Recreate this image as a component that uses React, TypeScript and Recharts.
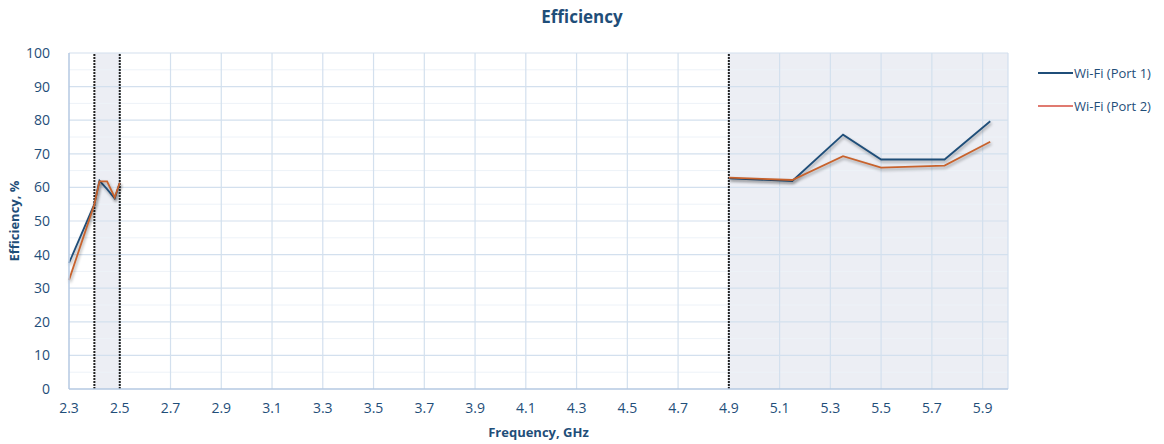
import {
  Line,
  LineChart,
  ReferenceArea,
  ReferenceLine,
  XAxis,
  YAxis,
} from "recharts";

// frequency points (GHz); the 3.7 entry is a null that splits the two bands
const freqs = [2.3, 2.4, 2.42, 2.45, 2.48, 2.5, 3.7, 4.9, 5.15, 5.35, 5.5, 5.75, 5.93];
const port1 = [37.5, 55, 62, 59.5, 56.7, 61.4, null, 62.7, 61.9, 75.7, 68.3, 68.3, 79.7];
const port2 = [32.4, 55, 61.8, 61.8, 57, 61.4, null, 62.9, 62.2, 69.3, 65.9, 66.5, 73.6];

const xTicks = [2.3, 2.5, 2.7, 2.9, 3.1, 3.3, 3.5, 3.7, 3.9, 4.1, 4.3, 4.5, 4.7, 4.9, 5.1, 5.3, 5.5, 5.7, 5.9];
const yTicks = [0, 10, 20, 30, 40, 50, 60, 70, 80, 90, 100];
const yMinor = [5, 15, 25, 35, 45, 55, 65, 75, 85, 95];

const bands = [
  { from: 2.4, to: 2.5 },
  { from: 4.9, to: 6.0 },
];
const markers = [2.4, 2.5, 4.9];

const series = [
  { key: "port1", name: "Wi-Fi (Port 1)", color: "#1f4e79", legendColor: "#1f4e79" },
  { key: "port2", name: "Wi-Fi (Port 2)", color: "#c8622c", legendColor: "#e07a70" },
];

const data = freqs.map((f, i) => ({ f, port1: port1[i], port2: port2[i] }));

const FONT = "'Open Sans', 'Noto Sans', sans-serif";
const TEXT = "#1f4e79";

function LegendBox() {
  return (
    <div style={{ position: "absolute", left: 1038, top: 56, fontFamily: FONT, fontSize: 13, color: TEXT }}>
      {series.map((s) => (
        <div key={s.key} style={{ display: "flex", alignItems: "center", height: 33 }}>
          <span style={{ display: "inline-block", width: 35, height: 2, background: s.legendColor, marginRight: 1 }} />
          <span>{s.name}</span>
        </div>
      ))}
    </div>
  );
}

export default function App() {
  return (
    <div style={{ position: "absolute", left: 0, top: 0, width: 1164, height: 444, background: "#fff" }}>
      <style>{`.recharts-line-curve { filter: drop-shadow(1px 2px 1.5px rgba(0,0,0,0.35)); }`}</style>
      <div
        style={{
          position: "absolute",
          top: 5,
          left: 0,
          width: 1164,
          textAlign: "center",
          fontFamily: FONT,
          fontWeight: 700,
          fontSize: 17,
          color: TEXT,
        }}
      >
        Efficiency
      </div>
      <LineChart width={1164} height={444} data={data} margin={{ top: 53, right: 156, bottom: 25, left: 19 }}>
        {bands.map((b) => (
          <ReferenceArea key={b.from} x1={b.from} x2={b.to} y1={0} y2={100} fill="#eceef4" fillOpacity={1} stroke="none" ifOverflow="visible" />
        ))}
        {yMinor.map((v) => (
          <ReferenceLine key={"m" + v} y={v} stroke="#edf2f8" strokeWidth={1} />
        ))}
        {yTicks.slice(1).map((v) => (
          <ReferenceLine key={"y" + v} y={v} stroke="#d3e0ee" strokeWidth={1.2} />
        ))}
        {xTicks.slice(1).map((v) => (
          <ReferenceLine key={"x" + v} x={v} stroke="#d3e0ee" strokeWidth={1.2} />
        ))}
        <ReferenceLine x={6.0} stroke="#d3e0ee" strokeWidth={1.2} />
        {markers.map((v) => (
          <ReferenceLine key={"d" + v} x={v} stroke="#222" strokeWidth={2} strokeDasharray="2 1" />
        ))}
        <XAxis
          dataKey="f"
          type="number"
          domain={[2.3, 6.0]}
          ticks={xTicks}
          tickFormatter={(v) => Number(v).toFixed(1)}
          interval={0}
          tickLine={false}
          tickSize={0}
          tickMargin={14}
          axisLine={{ stroke: "#b4c9e2", strokeWidth: 1.5 }}
          tick={{ fill: TEXT, fontSize: 14, fontFamily: FONT }}
          height={30}
          label={{ value: "Frequency, GHz", position: "insideBottom", offset: -18, fill: TEXT, fontSize: 13, fontWeight: 700, fontFamily: FONT }}
        />
        <YAxis
          type="number"
          domain={[0, 100]}
          ticks={yTicks}
          interval={0}
          tickLine={false}
          tickSize={0}
          tickMargin={19}
          axisLine={{ stroke: "#b4c9e2", strokeWidth: 1.5 }}
          tick={{ fill: TEXT, fontSize: 14, fontFamily: FONT }}
          width={50}
          label={{ value: "Efficiency, %", angle: -90, position: "insideLeft", offset: -5, fill: TEXT, fontSize: 13, fontWeight: 700, fontFamily: FONT, style: { textAnchor: "middle" } }}
        />
        {series.map((s) => (
          <Line
            key={s.key}
            type="linear"
            dataKey={s.key}
            name={s.name}
            stroke={s.color}
            strokeWidth={1.8}
            dot={false}
            activeDot={false}
            connectNulls={false}
            isAnimationActive={false}
          />
        ))}
      </LineChart>
      <LegendBox />
    </div>
  );
}
